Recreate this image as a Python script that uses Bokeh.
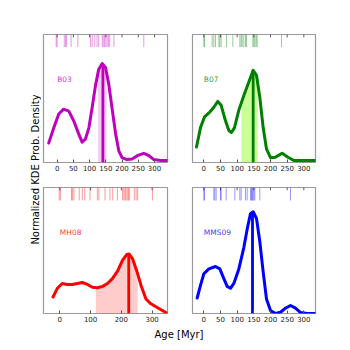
import numpy as np
from bokeh.plotting import figure
from bokeh.layouts import row, column
from bokeh.models import FixedTicker, Range1d
from bokeh.core.properties import value
from bokeh.embed import file_html
from bokeh.resources import INLINE

FONT = "DejaVu Sans"

# ---------------- data ----------------
b03_age = [-26, -10, 5, 20, 36, 51, 67, 77, 87, 98, 108, 118, 128, 139, 149, 159, 170, 180, 190, 200, 215, 231, 247, 267, 283, 298, 319, 340]
b03_den = [0.18, 0.34, 0.48, 0.53, 0.51, 0.41, 0.27, 0.19, 0.22, 0.34, 0.55, 0.77, 0.94, 1.00, 0.96, 0.79, 0.52, 0.28, 0.10, 0.03, 0.01, 0.015, 0.05, 0.075, 0.05, 0.01, 0.0, 0.0]
b03_rug = [-3, 0, 22, 26, 29, 43, 64, 103, 108, 116, 123, 128, 139, 142, 146, 150, 154, 158, 162, 175, 267]
b03_band = [126, 152]
b03_peak = 141

b07_age = [-22, -10, 2, 18, 30, 42, 52, 65, 75, 83, 92, 105, 120, 135, 148, 158, 168, 178, 188, 200, 215, 235, 250, 270, 290, 335]
b07_den = [0.14, 0.34, 0.45, 0.50, 0.55, 0.61, 0.57, 0.41, 0.31, 0.29, 0.34, 0.52, 0.67, 0.81, 0.93, 0.88, 0.65, 0.34, 0.12, 0.03, 0.035, 0.075, 0.04, 0.0, 0.0, 0.0]
b07_rug = [0, 2, 25, 30, 35, 45, 48, 52, 68, 87, 108, 112, 115, 120, 125, 128, 147, 150, 153, 157, 160, 233]
b07_band = [113, 162]
b07_peak = 148

mh08_age = [-22, -8, 8, 24, 40, 57, 73, 90, 106, 122, 139, 155, 171, 188, 204, 218, 225, 237, 251, 264, 280, 296, 318, 350]
mh08_den = [0.17, 0.26, 0.31, 0.30, 0.30, 0.31, 0.32, 0.30, 0.27, 0.265, 0.28, 0.31, 0.36, 0.44, 0.55, 0.61, 0.615, 0.56, 0.43, 0.29, 0.15, 0.10, 0.06, 0.0]
mh08_rug = [-2, 2, 38, 41, 46, 63, 73, 81, 98, 122, 127, 147, 163, 172, 187, 204, 208, 212, 215, 219, 223, 226, 242, 248, 253, 301]
mh08_band = [117, 253]
mh08_peak = 224

mms09_age = [-20, -10, 0, 15, 35, 48, 60, 70, 80, 90, 105, 120, 130, 140, 148, 158, 168, 178, 188, 200, 215, 230, 245, 260, 275, 290, 310, 335]
mms09_den = [0.16, 0.29, 0.41, 0.46, 0.485, 0.46, 0.36, 0.28, 0.26, 0.31, 0.46, 0.68, 0.87, 1.03, 1.05, 0.98, 0.74, 0.43, 0.15, 0.03, 0.0, 0.013, 0.055, 0.083, 0.055, 0.01, 0.0, 0.0]
mms09_rug = [0, 2, 30, 33, 37, 50, 52, 67, 93, 108, 112, 125, 130, 140, 143, 145, 147, 150, 153, 168, 260]
mms09_band = [143, 149]
mms09_peak = 146

ticks_50 = [0, 50, 100, 150, 200, 250, 300]
ticks_100 = [0, 100, 200, 300]


def panel(name, ages, dens, rugs, band, peak, color, fill_color, fill_alpha,
          xr, ticks, yr, rug_lo, w, h, top, bottom, bl, br):
    p = figure(width=w, height=h, x_range=Range1d(*xr), y_range=Range1d(*yr),
               output_backend="svg", toolbar_location=None,
               y_axis_location=None, x_axis_location="below",
               min_border_left=bl, min_border_right=br,
               min_border_top=top, min_border_bottom=bottom)
    p.grid.visible = False
    p.outline_line_color = "#9a9a9a"
    p.outline_line_width = 1.2
    p.background_fill_color = "white"
    p.border_fill_color = "white"
    ax = p.xaxis[0]
    ax.ticker = FixedTicker(ticks=ticks)
    ax.major_tick_in = 3
    ax.major_tick_out = 0
    ax.minor_tick_line_color = None
    ax.axis_line_color = None
    ax.major_tick_line_color = "#555555"
    ax.major_label_text_font = FONT
    ax.major_label_text_font_size = "7px"
    ax.major_label_text_color = "#222222"
    ax.major_label_standoff = 2

    # mirrored tick marks along the top edge
    span = yr[1] - yr[0]
    p.segment(x0=ticks, y0=[yr[1] - 0.022 * span] * len(ticks), x1=ticks, y1=[yr[1]] * len(ticks),
              line_color="#555555", line_width=1)

    # shaded band under the curve
    xb = [band[0]] + [a for a in ages if band[0] < a < band[1]] + [band[1]]
    yb = list(np.interp(xb, ages, dens))
    p.varea(x=xb, y1=[yr[0]] * len(xb), y2=yb, fill_color=fill_color, fill_alpha=fill_alpha)

    # rug marks
    p.segment(x0=rugs, y0=[rug_lo] * len(rugs), x1=rugs, y1=[yr[1]] * len(rugs),
              line_color=color, line_alpha=0.4, line_width=1)

    # KDE curve
    p.line(ages, dens, line_color=color, line_width=3, line_join="round", line_cap="round")

    # peak line
    p.segment(x0=[peak], y0=[yr[0]], x1=[peak], y1=[float(np.interp(peak, ages, dens))],
              line_color=color, line_width=2.8)

    p.text(x=[0], y=[0.84], text=[name], text_font=value(FONT), text_font_size="7.5px",
           text_color=color, text_alpha=0.8, text_align="left", text_baseline="middle")
    return p


tl = panel("B03", b03_age, b03_den, b03_rug, b03_band, b03_peak, "#BF00BF", "#BF00BF", 0.2,
           (-42, 340), ticks_50, (-0.02, 1.3), 1.17, 149, 185, 34, 23, 2, 23)
tr = panel("B07", b07_age, b07_den, b07_rug, b07_band, b07_peak, "#008000", "#7CFC00", 0.4,
           (-34, 335), ticks_50, (-0.02, 1.3), 1.17, 137, 185, 34, 23, 2, 12)
bl = panel("MH08", mh08_age, mh08_den, mh08_rug, mh08_band, mh08_peak, "#FF0000", "#FF0000", 0.2,
           (-53, 350), ticks_100, (0.0, 1.3), 1.166, 149, 143, 2, 15, 2, 23)
br = panel("MMS09", mms09_age, mms09_den, mms09_rug, mms09_band, mms09_peak, "#0000FF", "#0000FF", 0.2,
           (-34, 335), ticks_50, (0.0, 1.3), 1.166, 137, 143, 2, 15, 2, 12)

ylab = figure(width=41, height=340, x_range=Range1d(0, 41), y_range=Range1d(0, 340),
              output_backend="svg", toolbar_location=None, min_border=0,
              x_axis_location=None, y_axis_location=None)
ylab.outline_line_color = None
ylab.grid.visible = False
ylab.text(x=[35], y=[171], text=["Normalized KDE Prob. Density"], angle=np.pi / 2,
          text_font=value(FONT), text_font_size="10px", text_color="black",
          text_align="center", text_baseline="middle")

xlab = figure(width=286, height=12, x_range=Range1d(0, 286), y_range=Range1d(0, 12),
              output_backend="svg", toolbar_location=None, min_border=0,
              x_axis_location=None, y_axis_location=None)
xlab.outline_line_color = None
xlab.grid.visible = False
xlab.text(x=[137.5], y=[6], text=["Age [Myr]"], text_font=value(FONT), text_font_size="10px",
          text_color="black", text_align="center", text_baseline="middle")

layout = row(ylab, column(row(tl, tr), row(bl, br), xlab))

open("out.html", "w").write(file_html(layout, INLINE))
